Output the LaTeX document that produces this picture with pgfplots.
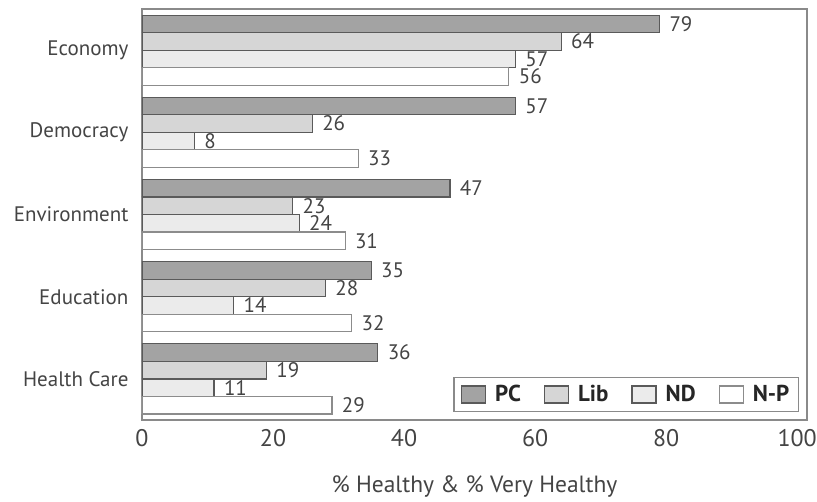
\documentclass[border=0pt]{standalone}
\usepackage{fontspec}
\setmainfont{PT Sans}
\usepackage{pgfplots}
\pgfplotsset{compat=1.18}
\definecolor{pc}{HTML}{A3A3A3}
\definecolor{lib}{HTML}{D6D6D6}
\definecolor{nd}{HTML}{EBEBEB}
\definecolor{np}{HTML}{FFFFFF}
\definecolor{barborder}{HTML}{5A5A5A}
\definecolor{npborder}{HTML}{8C8C8C}
\definecolor{axisgray}{HTML}{8A8A8A}
\definecolor{textgray}{HTML}{444444}
\begin{document}
\begin{tikzpicture}
\begin{axis}[
  scale only axis, width=665pt, height=411pt,
  xbar, bar width=17.5pt,
  xmin=0, xmax=101.5, ymin=-0.5, ymax=4.5, y dir=reverse,
  ytick={0,1,2,3,4},
  yticklabels={Economy,Democracy,Environment,Education,Health Care},
  xtick={0,20,40,60,80,100},
  major tick length=0pt,
  axis line style={draw=axisgray, line width=1.2pt},
  /pgf/number format/assume math mode=true,
  yticklabel style={font=\fontsize{21}{24}\selectfont, text=textgray, xshift=-10pt},
  xticklabel style={font=\fontsize{24}{28}\selectfont, text=textgray, yshift=-6pt},
  xlabel={\% Healthy \& \% Very Healthy},
  xlabel style={font=\fontsize{23.5}{27}\selectfont, text=textgray, yshift=-22pt},
  point meta=x,
  nodes near coords,
  nodes near coords style={anchor=west, font=\fontsize{21}{24}\selectfont, text=textgray, xshift=6pt},
  legend style={at={(1,0)}, anchor=south east, xshift=-8pt, yshift=8pt,
    legend columns=4, draw=axisgray, line width=1.2pt,
    font=\bfseries\fontsize{23}{27}\selectfont, text=black!85,
    inner xsep=7pt, inner ysep=6pt,
    /tikz/every even column/.append style={column sep=21pt},
    /tikz/every odd column/.append style={column sep=7pt}},
  legend image code/.code={\draw[#1] (0pt,-8.5pt) rectangle (24pt,8.5pt);},
]
\addplot[fill=pc, draw=barborder, line width=1.2pt, bar shift=26.25pt]
  coordinates {(79,0) (57,1) (47,2) (35,3) (36,4)};
\addplot[fill=lib, draw=barborder, line width=1.2pt, bar shift=8.75pt]
  coordinates {(64,0) (26,1) (23,2) (28,3) (19,4)};
\addplot[fill=nd, draw=barborder, line width=1.2pt, bar shift=-8.75pt]
  coordinates {(57,0) (8,1) (24,2) (14,3) (11,4)};
\addplot[fill=np, draw=npborder, line width=1.2pt, bar shift=-26.25pt]
  coordinates {(56,0) (33,1) (31,2) (32,3) (29,4)};
\legend{PC,Lib,ND,N-P}
\end{axis}
\pgfresetboundingbox
\path (current axis.south west) ++(-142pt,-82pt) rectangle (current axis.north east) ++(10pt,9pt);
\end{tikzpicture}
\end{document}
